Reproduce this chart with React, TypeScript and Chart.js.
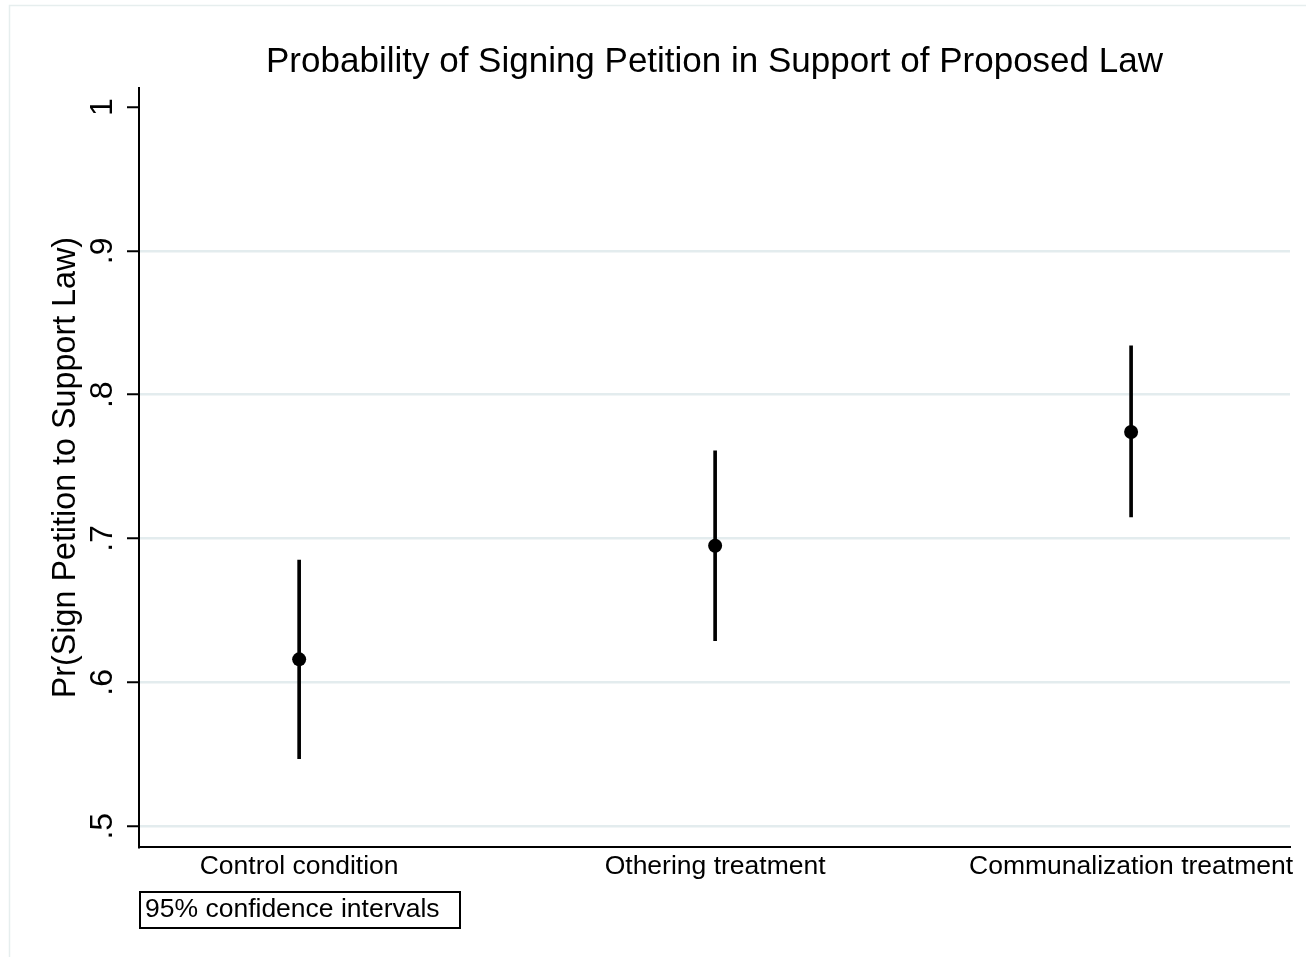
import React, { useEffect, useRef } from "react";
import { Chart, registerables } from "chart.js";

Chart.register(...registerables);

// Groups and their estimated probabilities with 95% confidence bounds
const categories = ["Control condition", "Othering treatment", "Communalization treatment"];
const positions = [1, 2, 3];
const estimates = [0.616, 0.695, 0.774];
const ciLower = [0.547, 0.629, 0.715];
const ciUpper = [0.685, 0.761, 0.834];
const yTicks = [0.5, 0.6, 0.7, 0.8, 0.9, 1];
const yTickLabels = [".5", ".6", ".7", ".8", ".9", "1"];

const titleText = "Probability of Signing Petition in Support of Proposed Law";
const yTitleText = "Pr(Sign Petition to Support Law)";
const noteText = "95% confidence intervals";

const FONT = '"Liberation Sans", Arial, Helvetica, sans-serif';

// Draws the title, rotated y labels, the note box and the outer frame
const decorations = {
  id: "decorations",
  afterDraw(chart: any) {
    const { ctx, chartArea, scales } = chart;
    const y = scales.y;
    ctx.save();

    // outer frame
    ctx.strokeStyle = "#e6eeee";
    ctx.lineWidth = 1.5;
    ctx.strokeRect(9.5, 5.5, 1400, 1000);

    ctx.fillStyle = "#000";

    // title
    ctx.font = `35px ${FONT}`;
    ctx.textAlign = "center";
    ctx.textBaseline = "middle";
    ctx.fillText(titleText, (chartArea.left + chartArea.right) / 2, 62);

    // y tick labels, rotated (baseline faces the axis)
    ctx.font = `32px ${FONT}`;
    yTicks.forEach((v, i) => {
      const py = y.getPixelForValue(v);
      ctx.save();
      ctx.translate(112, py);
      ctx.rotate(-Math.PI / 2);
      ctx.textAlign = "center";
      ctx.textBaseline = "alphabetic";
      ctx.fillText(yTickLabels[i], 0, 0);
      ctx.restore();
    });

    // y axis title
    ctx.save();
    ctx.font = `32.3px ${FONT}`;
    ctx.translate(66, (chartArea.top + chartArea.bottom) / 2);
    ctx.rotate(-Math.PI / 2);
    ctx.textAlign = "center";
    ctx.textBaseline = "middle";
    ctx.fillText(yTitleText, 0, 0);
    ctx.restore();

    // note box
    ctx.strokeStyle = "#000";
    ctx.lineWidth = 2;
    ctx.strokeRect(140, 892, 320, 36);
    ctx.font = `26.5px ${FONT}`;
    ctx.textAlign = "left";
    ctx.textBaseline = "middle";
    ctx.fillText(noteText, 145, 910);

    ctx.restore();
  },
};

export default function App() {
  const canvasRef = useRef<HTMLCanvasElement | null>(null);

  useEffect(() => {
    if (!canvasRef.current) return;
    const chart = new Chart(canvasRef.current, {
      type: "scatter",
      data: {
        datasets: [
          {
            type: "scatter",
            data: positions.map((x, i) => ({ x, y: estimates[i] })),
            pointRadius: 7,
            pointHoverRadius: 7,
            backgroundColor: "#000",
            borderColor: "#000",
            borderWidth: 0,
          },
          {
            type: "bar",
            data: positions.map((x, i) => ({ x, y: [ciLower[i], ciUpper[i]] })) as any,
            backgroundColor: "#000",
            borderWidth: 0,
            barThickness: 3,
          },
        ],
      },
      options: {
        animation: false,
        responsive: true,
        maintainAspectRatio: false,
        layout: { padding: { left: 127, right: 16, top: 88, bottom: 70 } },
        plugins: {
          legend: { display: false },
          tooltip: { enabled: false },
          title: { display: false },
        },
        scales: {
          x: {
            type: "linear",
            offset: false,
            min: 0.615,
            max: 3.382,
            afterBuildTicks: (scale: any) => {
              scale.ticks = positions.map((v) => ({ value: v }));
            },
            ticks: {
              autoSkip: false,
              maxRotation: 0,
              minRotation: 0,
              padding: 4,
              color: "#000",
              font: { family: FONT, size: 26.5 },
              callback: (v: any) => categories[positions.indexOf(Number(v))] ?? "",
            },
            grid: { display: false, drawTicks: false, tickLength: 0, offset: false },
            border: { display: true, color: "#000", width: 2 },
          },
          y: {
            type: "linear",
            min: 0.4854,
            max: 1.0132,
            afterBuildTicks: (scale: any) => {
              scale.ticks = yTicks.map((v) => ({ value: v }));
            },
            ticks: { display: false },
            grid: {
              color: (c: any) => (c.tick && c.tick.value === 1 ? "rgba(0,0,0,0)" : "#e3ecee"),
              lineWidth: 2.5,
              drawTicks: true,
              tickLength: 12,
              tickColor: "#000",
              tickWidth: 2,
            },
            border: { display: true, color: "#000", width: 2 },
          },
        },
      },
      plugins: [decorations],
    });
    return () => chart.destroy();
  }, []);

  return (
    <div
      style={{
        position: "absolute",
        left: 0,
        top: 0,
        width: 1306,
        height: 957,
        background: "#fff",
      }}
    >
      <canvas ref={canvasRef} />
    </div>
  );
}
